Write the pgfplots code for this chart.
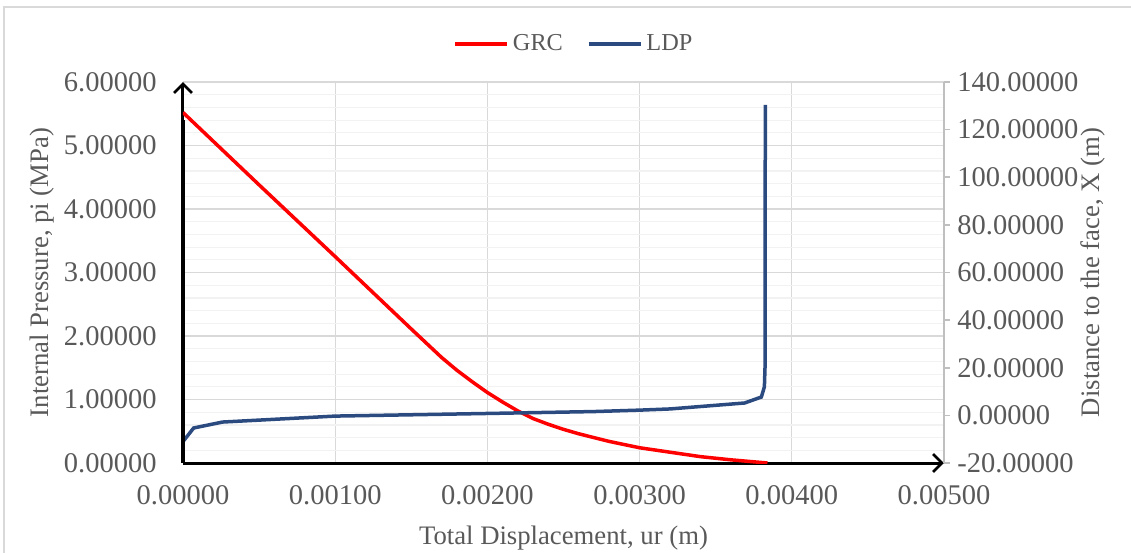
\documentclass[border=0pt]{standalone}
\usepackage{fontspec}
\setmainfont{Liberation Serif}
\usepackage{pgfplots}
\pgfplotsset{compat=1.18}
\usetikzlibrary{arrows.meta}
\definecolor{grcred}{HTML}{FF0000}
\definecolor{ldpblue}{HTML}{2B4A80}
\definecolor{txt}{HTML}{595959}
\definecolor{majgrid}{HTML}{D9D9D9}
\definecolor{mingrid}{HTML}{F2F2F2}
\definecolor{raxis}{HTML}{BFBFBF}

\begin{document}
\begin{tikzpicture}
\pgfplotsset{
  common/.style={scale only axis, width=380.5bp, height=190.5bp,
    xmin=0, xmax=0.005, scaled x ticks=false, scaled y ticks=false,
    tick label style={font=\fontsize{14.3}{16}\selectfont, text=txt},
    label style={font=\fontsize{13.4}{16}\selectfont, text=txt},
    /pgf/number format/.cd, fixed, fixed zerofill, precision=5, assume math mode=true},
}
% left axis: pressure
\begin{axis}[common, name=ax,
  ymin=0, ymax=6, ytick distance=1, xtick distance=0.001,
  minor y tick num=4,
  axis y line*=left, axis x line*=bottom,
  axis line style={black, line width=1.5bp, -{Straight Barb[length=4.5bp,width=9bp,line width=1.4bp]}},
  major tick length=0pt, minor tick length=0pt,
  grid=both,
  major grid style={majgrid, line width=0.6bp},
  minor grid style={mingrid, line width=0.6bp},
  minor x tick num=0,
  yticklabel style={anchor=east, inner sep=0pt, xshift=-13bp},
  xticklabel style={anchor=north, inner sep=0pt, yshift=-11bp},
  xlabel={Total Displacement, ur (m)},
  ylabel={Internal Pressure, pi (MPa)},
  xlabel style={at={(rel axis cs:0.5,0)}, anchor=center, yshift=-37.5bp},
  ylabel style={at={(rel axis cs:0,0.5)}, anchor=center, yshift=70.5bp},
]
\addplot[grcred, line width=1.75bp] coordinates {
(0.00000,5.52) (0.00050,4.38) (0.00100,3.25) (0.00150,2.11)
(0.00170,1.66) (0.00180,1.46) (0.00190,1.28) (0.00200,1.11)
(0.00210,0.96) (0.00220,0.82) (0.00230,0.70) (0.00240,0.61)
(0.00250,0.53) (0.00260,0.46) (0.00270,0.40) (0.00280,0.34)
(0.00300,0.24) (0.00320,0.17) (0.00340,0.10) (0.00360,0.05)
(0.00384,0.00)
};
\end{axis}
% right axis: distance to face
\begin{axis}[common,
  ymin=-20, ymax=140, ytick distance=20,
  axis y line*=right, axis x line=none,
  axis line style={raxis, line width=0.8bp},
  y tick style={raxis, line width=0.8bp},
  tick align=outside, major tick length=3bp,
  yticklabel style={anchor=west, inner sep=0pt, xshift=3.5bp},
  ylabel={Distance to the face, X (m)},
  ylabel style={at={(rel axis cs:1,0.5)}, anchor=center, yshift=-74.5bp},
  legend columns=2,
  legend style={draw=none, fill=none, at={(rel axis cs:0.515,1)}, anchor=center,
    yshift=19bp, font=\fontsize{12.2}{14}\selectfont, text=txt,
    /tikz/every even column/.append style={column sep=10bp}},
  legend image code/.code={\draw[#1] (0bp,0bp) -- (26bp,0bp);},
]
\addlegendimage{grcred, line width=1.75bp}
\addlegendentry{GRC}
\addplot[ldpblue, line width=1.75bp] coordinates {
(0.000000,-11.0) (0.000070,-5.3) (0.000260,-2.8) (0.001000,-0.3)
(0.002000,0.8) (0.002700,1.6) (0.003000,2.2) (0.003200,2.7)
(0.003690,5.2) (0.003800,7.7) (0.003820,12.0) (0.003824,20.0)
(0.003826,130.4)
};
\addlegendentry{LDP}
\draw[black, line width=1.5bp] (rel axis cs:0,0) -- (rel axis cs:0,0.9);
\coordinate (O) at (rel axis cs:0,0);
\end{axis}
\draw[majgrid, line width=0.8bp] ([shift={(-89.5bp,-60bp)}]O) -- ([shift={(-89.5bp,228bp)}]O) -- ([shift={(480bp,228bp)}]O);
\pgfresetboundingbox
\path[use as bounding box] ([shift={(-91.5bp,-45bp)}]O) rectangle ([shift={(474bp,231.5bp)}]O);
\end{tikzpicture}
\end{document}
